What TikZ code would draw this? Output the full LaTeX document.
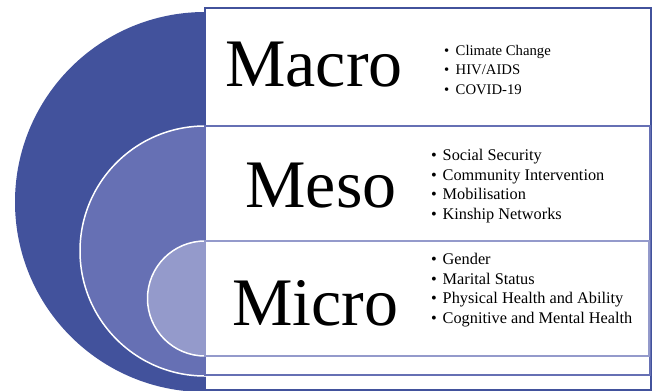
\documentclass[tikz,border=0pt]{standalone}
\usepackage{fontspec}
\setmainfont{Liberation Serif}
\usepackage{tikz}
\usetikzlibrary{positioning}
\definecolor{macroblue}{HTML}{42529C}
\definecolor{mesoblue}{HTML}{6670B4}
\definecolor{microblue}{HTML}{949ACB}
\tikzstyle{ring}=[draw=white, line width=1.5pt]
\tikzstyle{layer}=[fill=white, line width=1.4pt]
\tikzstyle{tiertitle}=[font=\fontsize{68}{68}\selectfont, anchor=base, inner sep=0pt]
\tikzstyle{factors}=[font=\fontsize{16.3}{19.7}\selectfont, align=left, anchor=north west, inner sep=0pt]
\newcommand{\factoritem}[1]{\makebox[11.5pt][l]{\textbullet}#1}

\begin{document}
\begin{tikzpicture}[x=1pt, y=-1pt]
  \useasboundingbox (0,0) rectangle (654,391);
  % outer level
  \fill[macroblue] (205,202) circle (190);
  \draw[layer, draw=macroblue] (205,8) rectangle (651,390);
  % middle level
  \draw[ring, fill=mesoblue] (205,251) circle (125);
  \draw[layer, draw=mesoblue] (205,126) rectangle (650,375);
  % inner level
  \draw[ring, fill=microblue] (205,298.5) circle (57.5);
  \draw[layer, draw=microblue] (205,241) rectangle (649,356);

  \node[tiertitle] (macro) at (314,86) {Macro};
  \node[tiertitle] (meso)  at (321,207) {Meso};
  \node[tiertitle] (micro) at (315.5,325) {Micro};

  \node[factors, font=\fontsize{14.7}{19.5}\selectfont] (macrolist) at (444,45)
    {\factoritem{Climate Change}\\ \factoritem{HIV/AIDS}\\ \factoritem{COVID-19}};
  \node[factors] (mesolist) at (431,149)
    {\factoritem{Social Security}\\ \factoritem{Community Intervention}\\
     \factoritem{Mobilisation}\\ \factoritem{Kinship Networks}};
  \node[factors] (microlist) at (431,253)
    {\factoritem{Gender}\\ \factoritem{Marital Status}\\
     \factoritem{Physical Health and Ability}\\ \factoritem{Cognitive and Mental Health}};
\end{tikzpicture}
\end{document}
